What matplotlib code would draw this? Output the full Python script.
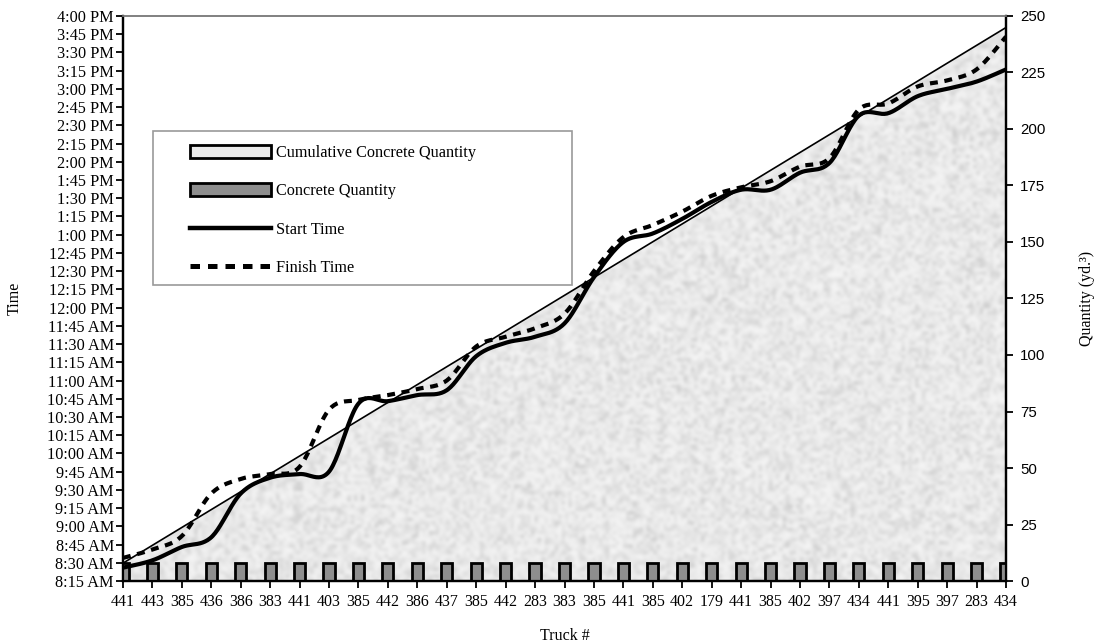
import numpy as np
import matplotlib
matplotlib.use("Agg")
import matplotlib.pyplot as plt
from matplotlib.patches import Polygon, Patch, Rectangle
from matplotlib.lines import Line2D
from matplotlib.colors import LinearSegmentedColormap
from matplotlib.ticker import FuncFormatter

plt.rcParams["font.family"] = ["Liberation Serif", "DejaVu Serif"]

# ---------------- data ----------------
trucks = ["441", "443", "385", "436", "386", "383", "441", "403", "385", "442",
          "386", "437", "385", "442", "283", "383", "385", "441", "385", "402",
          "179", "441", "385", "402", "397", "434", "441", "395", "397", "283", "434"]

# yd^3 delivered by each truck
quantity = [7.9] * 31

start_time = ["8:26", "8:32", "8:43", "8:51", "9:27", "9:40", "9:43", "9:45", "10:41", "10:43",
              "10:48", "10:52", "11:20", "11:31", "11:36", "11:47", "12:25", "12:54", "13:01", "13:13",
              "13:27", "13:37", "13:37", "13:51", "13:59", "14:38", "14:40", "14:54", "15:00", "15:06",
              "15:16"]

finish_time = ["8:34", "8:41", "8:52", "9:27", "9:39", "9:43", "9:49", "10:36", "10:44", "10:48",
               "10:53", "11:00", "11:28", "11:36", "11:43", "11:55", "12:30", "12:58", "13:08", "13:19",
               "13:32", "13:39", "13:44", "13:56", "14:03", "14:43", "14:48", "15:02", "15:07", "15:16",
               "15:43"]


def to_minutes(s):
    h, m = s.split(":")
    return int(h) * 60 + int(m)


def time_label(v, pos=None):
    v = int(round(v))
    h, m = divmod(v, 60)
    suffix = "AM" if h < 12 else "PM"
    h12 = h if h <= 12 else h - 12
    return f"{h12}:{m:02d} {suffix}"


def smooth_line(x, y, n=24):
    # bezier smoothing through every point (same style as spreadsheet "smoothed line")
    p = np.column_stack([x, y]).astype(float)
    p = np.vstack([p[0], p, p[-1]])
    t = np.linspace(0, 1, n)[:, None]
    out = []
    for i in range(1, len(p) - 2):
        p0, p1, p2, p3 = p[i - 1], p[i], p[i + 1], p[i + 2]
        c1 = p1 + (p2 - p0) / 6
        c2 = p2 - (p3 - p1) / 6
        seg = ((1 - t) ** 3) * p1 + 3 * ((1 - t) ** 2) * t * c1 + 3 * (1 - t) * t ** 2 * c2 + t ** 3 * p2
        out.append(seg if i == 1 else seg[1:])
    out = np.vstack(out)
    return out[:, 0], out[:, 1]


x = np.arange(len(trucks))
cumulative = np.cumsum(quantity)
start_min = np.array([to_minutes(s) for s in start_time])
finish_min = np.array([to_minutes(s) for s in finish_time])

fig = plt.figure(figsize=(10.99, 6.44), dpi=100)
ax_q = fig.add_axes([0.1119, 0.0978, 0.8035, 0.8774])
ax_t = ax_q.twinx()

# ---------------- quantity side (right axis) ----------------
ax_q.set_xlim(0, len(trucks) - 1)
ax_q.set_ylim(0, 250)

verts = [(0, 0)] + list(zip(x, cumulative)) + [(x[-1], 0)]
area = Polygon(verts, closed=True, facecolor="none", edgecolor="black", lw=1.2, zorder=2)
ax_q.add_patch(area)

# speckled fill texture clipped to the cumulative area
rng = np.random.default_rng(7)
noise = rng.random((170, 260)) ** 0.45
tex_cmap = LinearSegmentedColormap.from_list("speck", ["#c8c8c8", "#f6f6f6"])
im = ax_q.imshow(noise, extent=[0, x[-1], 0, 250], aspect="auto", cmap=tex_cmap,
                 interpolation="bicubic", origin="lower", zorder=1)
im.set_clip_path(area)

ax_q.bar(x, quantity, width=0.38, color="#8e8e8e", edgecolor="black", linewidth=2, zorder=3)

ax_q.yaxis.tick_right()
ax_q.yaxis.set_label_position("right")
ax_q.set_yticks(np.arange(0, 251, 25))
for lab in ax_q.get_yticklabels():
    lab.set_fontfamily("Liberation Sans")
    lab.set_fontsize(10.8)
ax_q.tick_params(axis="y", direction="out", length=5, width=1.3, pad=5)
ax_q.set_ylabel("Quantity (yd.³)", fontsize=11.5, rotation=90, labelpad=24)

ax_q.set_xticks(x)
ax_q.set_xticklabels(trucks, fontsize=11.5)
ax_q.tick_params(axis="x", direction="out", length=5, width=1.3, pad=4)
ax_q.set_xlabel("Truck #", fontsize=11.5, labelpad=13)

# ---------------- time side (left axis) ----------------
xs, ys = smooth_line(x, start_min)
ax_t.plot(xs, ys, color="black", lw=3, solid_capstyle="round", zorder=4)
xf, yf = smooth_line(x, finish_min)
ax_t.plot(xf, yf, color="black", lw=3, linestyle=(0, (1.9, 1.6)), zorder=4)

ax_t.set_ylim(to_minutes("8:15"), to_minutes("16:00"))
ax_t.set_yticks(np.arange(to_minutes("8:15"), to_minutes("16:00") + 1, 15))
ax_t.yaxis.set_major_formatter(FuncFormatter(time_label))
ax_t.yaxis.tick_left()
ax_t.yaxis.set_label_position("left")
ax_t.tick_params(axis="y", direction="out", length=5, width=1.3, pad=1.5, labelsize=11.7)
ax_t.set_ylabel("Time", fontsize=11.5, labelpad=18)

for a in (ax_q, ax_t):
    a.spines["left"].set_linewidth(1.6)
    a.spines["bottom"].set_linewidth(1.6)
    a.spines["right"].set_linewidth(1.6)
    a.spines["top"].set_color("#808080")
    a.spines["top"].set_linewidth(1.2)

# ---------------- legend ----------------
frame = Rectangle((0.1392, 0.5575), 0.3813, 0.2391, transform=fig.transFigure,
                  facecolor="white", edgecolor="#9a9a9a", lw=1.2, zorder=8, clip_on=False)
ax_t.add_patch(frame)

handles = [
    Patch(facecolor="#ebebeb", edgecolor="black", lw=2),
    Patch(facecolor="#8e8e8e", edgecolor="black", lw=2),
    Line2D([], [], color="black", lw=3.2),
    Line2D([], [], color="black", lw=3.6, linestyle=(0, (1.9, 1.6))),
]
labels = ["Cumulative Concrete Quantity", "Concrete Quantity", "Start Time", "Finish Time"]
leg = ax_t.legend(handles, labels, loc="upper left", bbox_to_anchor=(0.1655, 0.788),
                  bbox_transform=fig.transFigure, frameon=False, fontsize=11.7,
                  borderpad=0, handlelength=5.0, handleheight=0.85, handletextpad=0.3,
                  labelspacing=1.38)
leg.set_zorder(9)

fig.savefig("out.png", dpi=100)
